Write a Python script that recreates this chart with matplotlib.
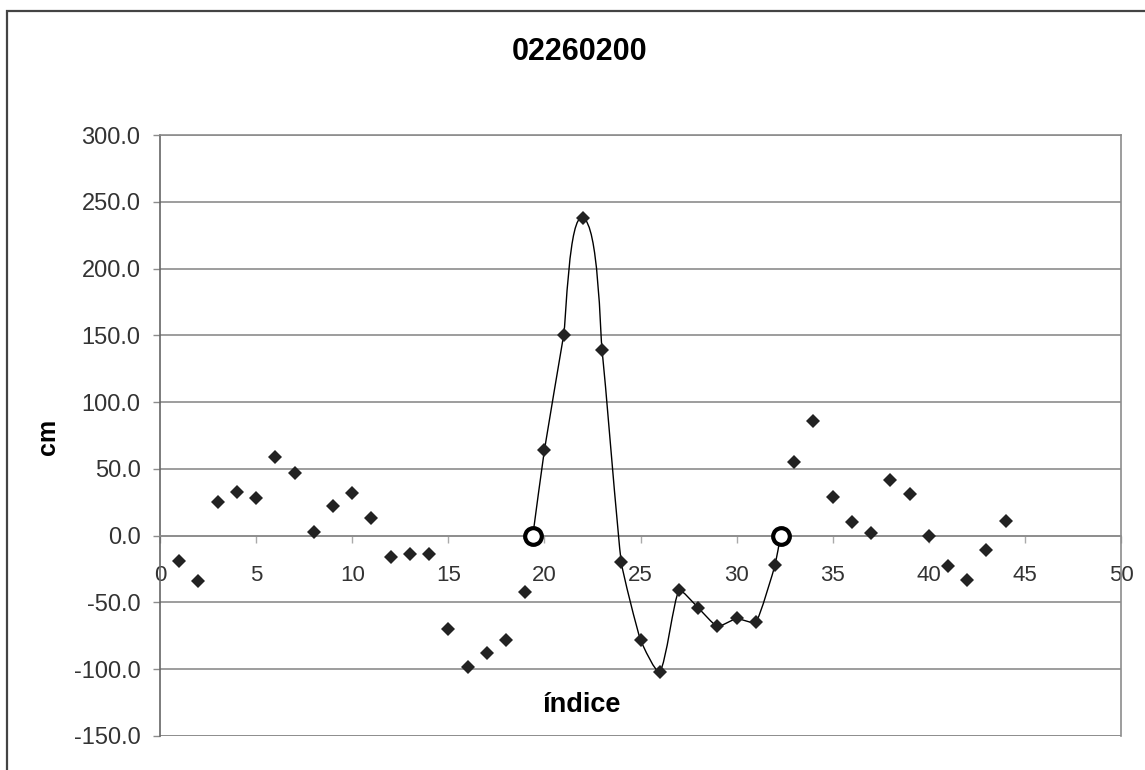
import numpy as np
import matplotlib.pyplot as plt
from matplotlib.path import Path
from matplotlib.patches import PathPatch, Rectangle

plt.rcParams['font.family'] = ['Liberation Sans', 'DejaVu Sans']

# series: index vs. anomaly (cm)
indice = np.arange(1, 45)
cm = np.array([
    -19, -34, 25, 33, 28, 59, 47, 3, 22, 32,
    13, -16, -14, -14, -70, -98, -88, -78, -42, 64,
    150, 238, 139, -20, -78, -102, -41, -54, -68, -62,
    -65, -22, 55, 86, 29, 10, 2, 42, 31, 0,
    -23, -33, -11, 11,
])

title = "02260200"
x_label = "índice"
y_label = "cm"

# event window: first and last index inside the positive excursion
ev_start, ev_end = 20, 32
handle = 0.125   # control-point distance as a fraction of segment length


def zero_cross(i0, i1):
    x0, x1 = indice[i0], indice[i1]
    y0, y1 = cm[i0], cm[i1]
    return x0 - y0 * (x1 - x0) / (y1 - y0)


def smooth_path(ax, xs, ys):
    # bezier through the points, built in display space so the curve
    # looks round on screen; tangent from neighbours, handle ~ segment length
    disp = ax.transData.transform(np.column_stack([xs, ys]))
    ext = np.vstack([disp[0], disp, disp[-1]])
    tang = ext[2:] - ext[:-2]
    tang /= np.linalg.norm(tang, axis=1)[:, None]
    verts = [disp[0]]
    codes = [Path.MOVETO]
    for k in range(len(disp) - 1):
        seg = np.linalg.norm(disp[k + 1] - disp[k])
        c1 = disp[k] + tang[k] * seg * handle
        c2 = disp[k + 1] - tang[k + 1] * seg * handle
        verts += [c1, c2, disp[k + 1]]
        codes += [Path.CURVE4] * 3
    data = ax.transData.inverted().transform(np.array(verts))
    return Path(data, codes)


i_s = ev_start - 1
i_e = ev_end - 1
xa = zero_cross(i_s - 1, i_s)
xb = zero_cross(i_e, i_e + 1)
px = np.concatenate([[xa], indice[i_s:i_e + 1], [xb]]).astype(float)
py = np.concatenate([[0.0], cm[i_s:i_e + 1], [0.0]]).astype(float)

W, H = 1145, 770
fig = plt.figure(figsize=(W / 100, H / 100), dpi=100)
fig.patch.set_facecolor("white")

# outer chart frame
fig.add_artist(Rectangle((7 / W, -0.2), 1.2, 1.2 - 11 / H,
                         transform=fig.transFigure, fill=False,
                         edgecolor="#444444", linewidth=1.6))

ax = fig.add_axes([160 / W, (H - 736) / H, (1121 - 160) / W, (736 - 135) / H])
ax.set_xlim(0, 50)
ax.set_ylim(-150, 300)
ax.set_xticks(np.arange(0, 51, 5))
ax.set_yticks(np.arange(-150, 301, 50))
ax.yaxis.set_major_formatter(plt.FuncFormatter(lambda v, p: f"{v:.1f}"))

grid_c = "#8c8c8c"
ax.yaxis.grid(True, color=grid_c, linewidth=1.2)
ax.set_axisbelow(True)
for side in ("top", "right"):
    ax.spines[side].set_color(grid_c)
    ax.spines[side].set_linewidth(1.2)
ax.spines["left"].set_color("#666666")
ax.spines["left"].set_linewidth(1.2)
ax.spines["bottom"].set_position(("data", 0))
ax.spines["bottom"].set_color(grid_c)
ax.spines["bottom"].set_linewidth(1.2)
ax.axhline(-150, color=grid_c, linewidth=1.2, zorder=0.5)

ax.tick_params(axis="y", direction="out", length=5, width=1, color=grid_c,
               labelsize=17, labelcolor="#333333", pad=9)
ax.tick_params(axis="x", direction="out", length=5, width=1, color="#aaaaaa",
               labelsize=16, labelcolor="#333333", pad=16)

ax.add_patch(PathPatch(smooth_path(ax, px, py), facecolor="none",
                       edgecolor="black", linewidth=1.0, zorder=3))
ax.plot(indice, cm, linestyle="none", marker="D", markersize=7,
        color="#222222", markeredgewidth=0, zorder=4, clip_on=False)
ax.plot([xa, xb], [0, 0], linestyle="none", marker="o", markersize=12,
        markerfacecolor="white", markeredgecolor="black",
        markeredgewidth=3, zorder=5)

fig.text(580 / W, 1 - 52 / H, title, ha="center", va="center",
         fontsize=22, fontweight="bold")
fig.text(582 / W, 1 - 705 / H, x_label, ha="center", va="center",
         fontsize=19.5, fontweight="bold")
fig.text(48 / W, 1 - 437 / H, y_label, ha="center", va="center",
         rotation=90, fontsize=18, fontweight="bold")

fig.savefig("out.png", dpi=100)
